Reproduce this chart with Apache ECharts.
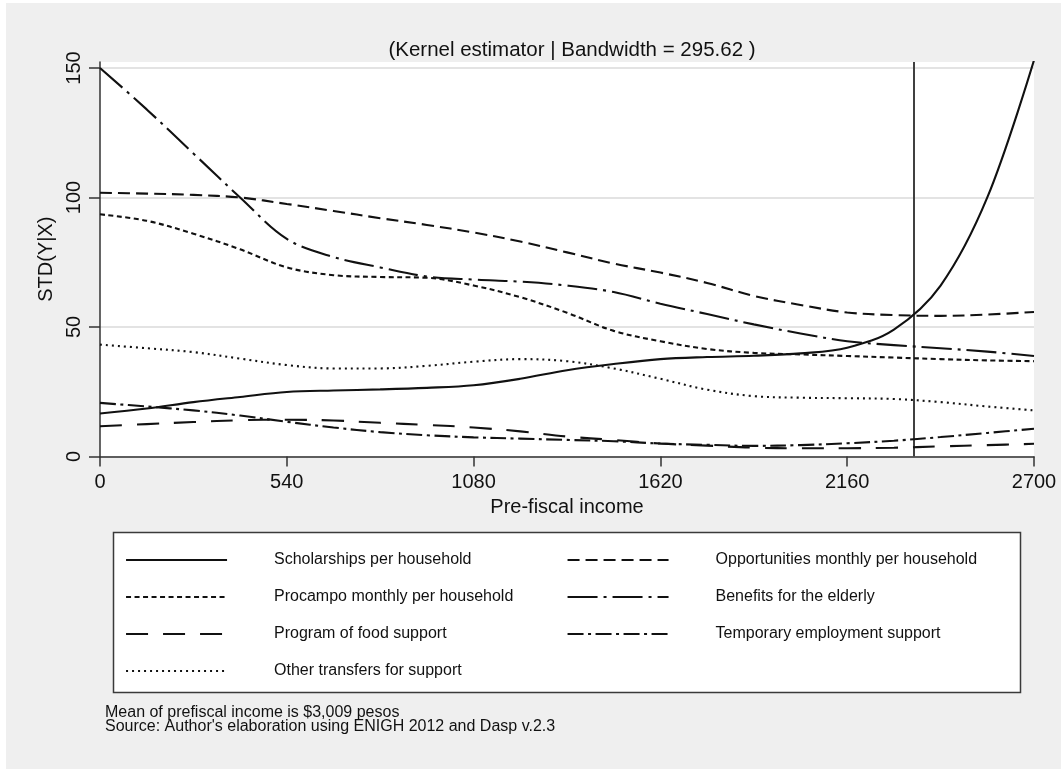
<!DOCTYPE html>
<html>
<head>
<meta charset="utf-8">
<title>STD(Y|X) by pre-fiscal income</title>
<script src="https://cdn.jsdelivr.net/npm/echarts@6/dist/echarts.min.js"></script>
<style>
  html, body { margin: 0; padding: 0; background: #ffffff; }
  #chart { width: 1061px; height: 769px; }
</style>
</head>
<body>
<div id="chart"></div>
<script>
// Pre-fiscal income grid (pesos)
const income = [0, 135, 270, 405, 540, 675, 810, 945, 1080, 1215, 1350, 1485, 1620, 1755, 1890, 2025, 2160, 2295, 2430, 2565, 2700];

// Conditional standard deviation of each transfer
const scholarships  = [16.6, 18.5, 21.0, 23.0, 24.9, 25.5, 25.9, 26.5, 27.5, 30.0, 33.3, 35.7, 37.6, 38.4, 38.9, 39.8, 42.0, 49.0, 66.0, 100.0, 153.0];
const opportunities = [101.8, 101.5, 101.0, 100.0, 97.5, 94.8, 92.0, 89.4, 86.5, 83.0, 78.8, 74.5, 71.0, 67.0, 62.0, 58.5, 55.6, 54.6, 54.3, 54.8, 55.8];
const procampo      = [93.5, 91.0, 86.0, 80.0, 73.0, 70.0, 69.3, 69.0, 66.0, 61.5, 55.5, 48.5, 44.5, 41.5, 40.0, 39.4, 38.8, 38.2, 37.6, 37.1, 36.8];
const elderly       = [150.0, 134.0, 117.0, 100.0, 84.0, 77.0, 73.0, 69.5, 68.3, 67.5, 66.0, 63.5, 59.0, 55.0, 51.0, 47.5, 44.5, 43.0, 41.8, 40.5, 38.8];
const foodSupport   = [11.7, 12.5, 13.3, 14.0, 14.2, 13.9, 13.0, 12.2, 11.2, 9.7, 7.7, 6.4, 5.0, 4.2, 3.4, 3.2, 3.2, 3.4, 3.9, 4.4, 4.9];
const temporaryJobs = [20.7, 19.3, 17.8, 15.8, 13.4, 11.2, 9.4, 8.2, 7.4, 6.9, 6.4, 5.9, 5.0, 4.5, 4.1, 4.4, 5.1, 6.1, 7.5, 9.1, 10.7];
const otherTransfers= [43.2, 41.8, 40.3, 37.8, 35.3, 34.0, 34.0, 35.0, 36.6, 37.6, 36.8, 34.0, 30.0, 25.8, 23.3, 22.7, 22.5, 22.2, 21.0, 19.3, 17.8];

// Series names
const seriesNames = [
  'Scholarships per household',
  'Opportunities monthly per household',
  'Procampo monthly per household',
  'Benefits for the elderly',
  'Program of food support',
  'Temporary employment support',
  'Other transfers for support'
];

// Axis ticks
const xTicks = [0, 540, 1080, 1620, 2160, 2700];
const yTicks = [0, 50, 100, 150];

// Reference line on the income axis
const referenceIncome = 2351;

const INK = '#111111';
const AXIS = '#333333';
const FONT = '"Liberation Sans", Arial, sans-serif';

// Line patterns for each series
const dashes = [
  'solid',
  [12, 6],
  [5, 3.5],
  [30, 6, 3, 6],
  [22, 15],
  [16, 4.5, 3, 4.5],
  [2, 4]
];

const seriesValues = [scholarships, opportunities, procampo, elderly, foodSupport, temporaryJobs, otherTransfers];

const series = seriesValues.map((vals, i) => {
  const s = {
    name: seriesNames[i],
    type: 'line',
    data: income.map((x, k) => [x, vals[k]]),
    smooth: 0.35,
    symbol: 'none',
    showSymbol: false,
    clip: true,
    lineStyle: { color: INK, width: 2.1, type: dashes[i], cap: 'butt' },
    itemStyle: { color: INK },
    emphasis: { disabled: true },
    z: 3
  };
  if (i === 0) {
    s.markLine = {
      silent: true,
      symbol: 'none',
      label: { show: false },
      lineStyle: { color: '#404040', width: 2, type: 'solid' },
      data: [{ xAxis: referenceIncome }],
      z: 2
    };
  }
  return s;
});

function legendColumn(indices, left) {
  return {
    orient: 'vertical',
    left: left,
    top: 551,
    padding: 0,
    itemWidth: 101,
    itemHeight: 14,
    itemGap: 19,
    selectedMode: false,
    itemStyle: { opacity: 0 },
    textStyle: { fontFamily: FONT, fontSize: 16, lineHeight: 18, color: INK, padding: [0, 0, 0, 42] },
    data: indices.map(i => ({
      name: seriesNames[i],
      itemStyle: { opacity: 0 },
      lineStyle: { color: INK, width: 2.1, type: dashes[i], cap: 'butt' }
    }))
  };
}

const plainNumber = v => String(v);

const chart = echarts.init(document.getElementById('chart'), null, { renderer: 'canvas' });

chart.setOption({
  animation: false,
  backgroundColor: '#ffffff',
  title: {
    text: '(Kernel estimator | Bandwidth = 295.62 )',
    left: 567,
    top: 35,
    textAlign: 'center',
    textStyle: { fontFamily: FONT, fontSize: 20.5, fontWeight: 'normal', color: INK }
  },
  graphic: [
    {
      type: 'rect', z: -10, silent: true,
      shape: { x: 6, y: 3, width: 1061, height: 769 },
      style: { fill: '#efefef' }
    },
    {
      type: 'rect', z: -5, silent: true,
      shape: { x: 113.5, y: 532.5, width: 907, height: 160 },
      style: { fill: '#ffffff', stroke: '#3a3a3a', lineWidth: 1.5 }
    },
    {
      type: 'text', silent: true, left: 105, top: 705,
      style: { text: 'Mean of prefiscal income is $3,009 pesos', font: '16px ' + FONT, fill: INK }
    },
    {
      type: 'text', silent: true, left: 105, top: 719,
      style: { text: "Source: Author's elaboration using ENIGH 2012 and Dasp v.2.3", font: '16px ' + FONT, fill: INK }
    }
  ],
  grid: {
    left: 100, right: 27, top: 62, bottom: 312.5,
    show: true, backgroundColor: '#ffffff', borderWidth: 0
  },
  legend: [
    legendColumn([0, 2, 4, 6], 125),
    legendColumn([1, 3, 5], 566.5)
  ],
  xAxis: {
    type: 'value',
    min: 0,
    max: 2700,
    interval: 540,
    name: 'Pre-fiscal income',
    nameLocation: 'middle',
    nameGap: 40,
    nameTextStyle: { fontFamily: FONT, fontSize: 20, color: INK },
    axisLine: { show: true, onZero: false, lineStyle: { color: AXIS, width: 1.5 } },
    axisTick: { show: true, length: 10, customValues: xTicks, lineStyle: { color: AXIS, width: 1.5 } },
    axisLabel: { customValues: xTicks, formatter: plainNumber, margin: 16, fontFamily: FONT, fontSize: 20, color: INK },
    splitLine: { show: false }
  },
  yAxis: {
    type: 'value',
    min: 0,
    max: 152.3,
    name: 'STD(Y|X)',
    nameLocation: 'middle',
    nameGap: 40,
    nameRotate: 90,
    nameTextStyle: { fontFamily: FONT, fontSize: 20, color: INK },
    axisLine: { show: true, lineStyle: { color: AXIS, width: 1.5 } },
    axisTick: { show: true, length: 11, customValues: yTicks, lineStyle: { color: AXIS, width: 1.5 } },
    axisLabel: { customValues: yTicks, formatter: plainNumber, rotate: 90, margin: 16, fontFamily: FONT, fontSize: 20, color: INK },
    splitLine: { show: true, lineStyle: { color: '#e3e3e3', width: 2 } }
  },
  series: series
});
</script>
</body>
</html>
